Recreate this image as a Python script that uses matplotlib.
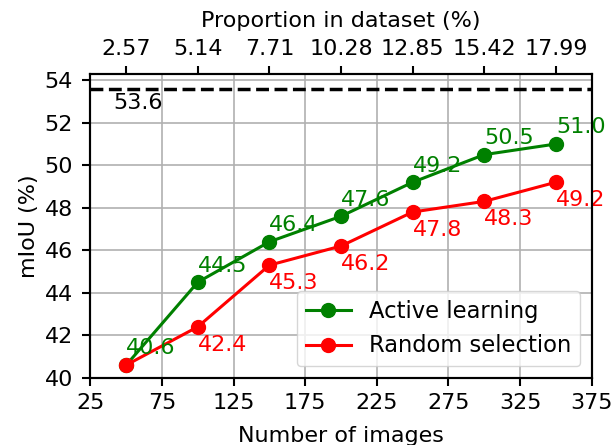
import matplotlib
matplotlib.use("Agg")
from matplotlib import pyplot as plt

# data
num_images = [50, 100, 150, 200, 250, 300, 350]
proportion_labels = ["2.57", "5.14", "7.71", "10.28", "12.85", "15.42", "17.99"]
active_miou = [40.6, 44.5, 46.4, 47.6, 49.2, 50.5, 51.0]
random_miou = [40.6, 42.4, 45.3, 46.2, 47.8, 48.3, 49.2]
full_dataset_miou = 53.6

plt.rcParams["font.size"] = 16
plt.rcParams["axes.linewidth"] = 1.5
for a in ("xtick", "ytick"):
    plt.rcParams[a + ".major.size"] = 6
    plt.rcParams[a + ".major.width"] = 1.5
    plt.rcParams[a + ".major.pad"] = 5

fig = plt.figure(figsize=(6.15, 4.45), dpi=100)
ax = fig.add_axes([0.147, 0.151, 0.815, 0.683])

ax.plot(num_images, active_miou, "-o", color="green", lw=2.2, ms=10, label="Active learning")
ax.plot(num_images, random_miou, "-o", color="red", lw=2.2, ms=10, label="Random selection")
ax.axhline(full_dataset_miou, color="black", ls="--", lw=2.5)
ax.text(41, 52.65, "%.1f" % full_dataset_miou, color="black")

# value labels
for x, y in zip(num_images, active_miou):
    ax.text(x, y + 0.5, "%.1f" % y, color="green", ha="left")
for x, y in zip(num_images[1:], random_miou[1:]):
    ax.text(x, y - 1.12, "%.1f" % y, color="red", ha="left")

ax.set_xlim(25, 375)
ax.set_ylim(40, 54.3)
ax.set_xticks(range(25, 376, 50))
ax.set_yticks(range(40, 55, 2))
ax.tick_params(axis="y", pad=6.5)
ax.grid(True, color="#b0b0b0", lw=1.2)
ax.set_xlabel("Number of images", labelpad=9.5)
ax.set_ylabel("mIoU (%)")
ax.legend(loc="lower right", fontsize=16.3)

# top axis: share of dataset
ax2 = ax.twiny()
ax2.set_xlim(ax.get_xlim())
ax2.set_xticks(num_images)
ax2.set_xticklabels(proportion_labels)
ax2.set_xlabel("Proportion in dataset (%)", labelpad=8)

fig.savefig("out.png", dpi=100)
